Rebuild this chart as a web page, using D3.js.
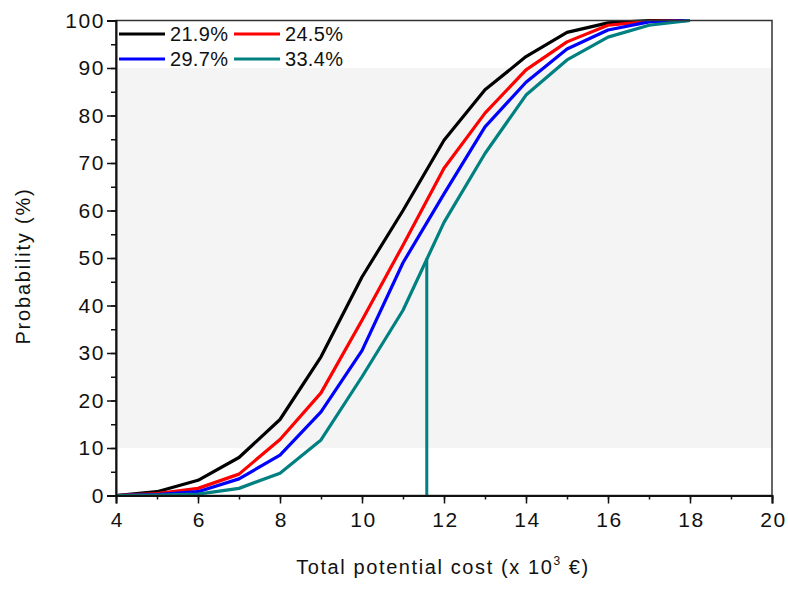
<!DOCTYPE html>
<html><head><meta charset="utf-8">
<script src="https://cdn.jsdelivr.net/npm/d3@7"></script>
<style>
body{margin:0;background:#fff;}
text{font-family:"Liberation Sans",Arial,sans-serif;fill:#111;}
</style></head>
<body><svg id="c" width="788" height="590"></svg>
<script>
const xValues = [4,5,6,7,8,9,10,11,12,13,14,15,16,17,18];
const s219 = [0,0.8,3.2,8,16,29.2,46,60,74.8,85.4,92.4,97.5,99.5,100,100];
const s245 = [0,0.4,1.5,4.5,11.8,21.6,36.9,52.7,68.9,80.5,89.6,95.5,99,99.8,100];
const s297 = [0,0.2,0.8,3.5,8.5,17.6,30.5,49,63.5,77.6,87,94,98,99.7,100];
const s334 = [0,0.1,0.3,1.5,4.7,11.7,25,39,57.5,72,84.3,91.7,96.5,99,100];
const seriesNames = ["21.9%","24.5%","29.7%","33.4%"];
const seriesColors = ["#000000","#ff0000","#0000ff","#008080"];
const seriesData = [s219,s245,s297,s334];
const bandRange = [10,90];
const markerX = 11.58, markerY = 50;
const xTicks = [4,6,8,10,12,14,16,18,20];
const yTicks = [0,10,20,30,40,50,60,70,80,90,100];

const svg = d3.select("#c");
const L=116, T=20.5, W=656, H=475;
const x = d3.scaleLinear().domain([4,20]).range([L,L+W]);
const y = d3.scaleLinear().domain([0,100]).range([T+H,T]);

// band
svg.append("rect").attr("x",x(4)).attr("width",x(20)-x(4))
  .attr("y",y(bandRange[1])).attr("height",y(bandRange[0])-y(bandRange[1]))
  .attr("fill","#f4f4f4");

// lines
const line = d3.line().x((d,i)=>x(xValues[i])).y(d=>y(d));
seriesData.forEach((s,k)=>{
  svg.append("path").datum(s).attr("d",line).attr("fill","none")
    .attr("stroke",seriesColors[k]).attr("stroke-width",3.2).attr("stroke-linejoin","round");
});
// marker line
svg.append("line").attr("x1",x(markerX)).attr("x2",x(markerX)).attr("y1",y(0)).attr("y2",y(markerY))
  .attr("stroke","#008080").attr("stroke-width",3);

// frame
svg.append("rect").attr("x",L).attr("y",T).attr("width",W).attr("height",H)
  .attr("fill","none").attr("stroke","#333").attr("stroke-width",1.5);

// x axis
const xa = svg.append("g").attr("transform",`translate(0,${T+H})`)
  .call(d3.axisBottom(x).tickValues(d3.range(4,21,1)).tickSize(4).tickFormat(""));
xa.select(".domain").remove();
xa.selectAll("line").attr("stroke","#111").attr("stroke-width",1.5);
const xb = svg.append("g").attr("transform",`translate(0,${T+H})`)
  .call(d3.axisBottom(x).tickValues(xTicks).tickSize(8).tickPadding(9).tickFormat(d3.format("d")));
xb.select(".domain").attr("stroke","#111").attr("stroke-width",2);
xb.selectAll("line").attr("stroke","#111").attr("stroke-width",1.5);
xb.selectAll("text").attr("font-size","21px").style("letter-spacing","1.6px").attr("fill","#111")
  .attr("dx","1px");

// y axis
const ya = svg.append("g").attr("transform",`translate(${L},0)`)
  .call(d3.axisLeft(y).tickValues(d3.range(0,101,5)).tickSize(5).tickFormat(""));
ya.select(".domain").remove();
ya.selectAll("line").attr("stroke","#111").attr("stroke-width",1.5);
const yb = svg.append("g").attr("transform",`translate(${L},0)`)
  .call(d3.axisLeft(y).tickValues(yTicks).tickSize(9).tickPadding(2).tickFormat(d3.format("d")));
yb.select(".domain").attr("stroke","#111").attr("stroke-width",2);
yb.selectAll("line").attr("stroke","#111").attr("stroke-width",1.5);
yb.selectAll("text").attr("font-size","21px").style("letter-spacing","1.6px").attr("fill","#111");

// axis titles
const xt = svg.append("text").attr("x",443).attr("y",574).attr("text-anchor","middle")
  .attr("font-size","20px").style("letter-spacing","1.6px");
xt.append("tspan").text("Total potential cost (x 10");
xt.append("tspan").attr("font-size","12px").attr("dy","-9").text("3");
xt.append("tspan").attr("dy","9").text(" €)");
svg.append("text").attr("transform","translate(30,266) rotate(-90)").attr("text-anchor","middle")
  .attr("font-size","20px").style("letter-spacing","1.8px").text("Probability (%)");

// legend
const legPos = [[119,34],[234,34],[119,59],[234,59]];
seriesNames.forEach((n,k)=>{
  const [lx,ly]=legPos[k];
  svg.append("line").attr("x1",lx).attr("x2",lx+46).attr("y1",ly).attr("y2",ly)
    .attr("stroke",seriesColors[k]).attr("stroke-width",3.2);
  svg.append("text").attr("x",lx+51).attr("y",ly+7).attr("font-size","20px")
    .style("letter-spacing","0.3px").text(n);
});
</script></body></html>
